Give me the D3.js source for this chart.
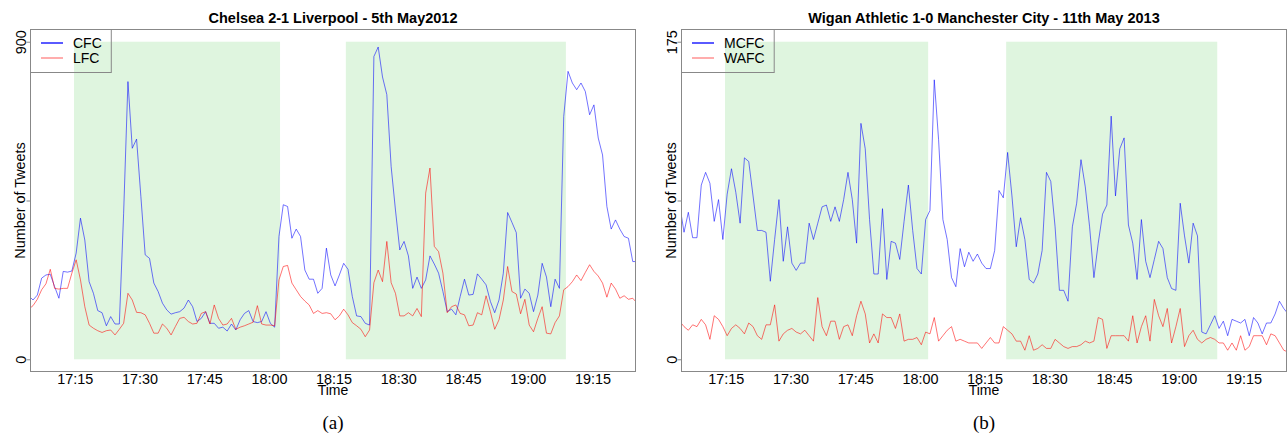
<!DOCTYPE html>
<html lang="en">
<head>
<meta charset="utf-8">
<script src="https://d3js.org/d3.v7.min.js"></script>
<style>
  body { margin: 0; background: #fff; }
  text { font-family: "Liberation Sans", Arial, sans-serif; fill: #000; }
</style>
</head>
<body>
<script>

// tweets per minute, first sample at startTime, one sample every minute
var startTime = "17:04:20";

var cfcTweets = [180,
  168,182,230,239,241,206,173,249,247,250, 301,400,338,220,187,138,132,95,121,100,
  100,414,787,598,624,461,296,286,216,192, 159,140,128,132,135,145,168,149,107,116,
  135,102,102,88,91,80,100,83,112,130, 138,107,104,107,135,102,91,348,438,433,
  343,369,348,253,227,227,187,201,315,239,
  208,239,272,255,178,123,121,102,97,858, 885,800,750,546,423,310,334,293,201,233,
  201,225,293,270,244,192,135,142,126,178, 227,182,184,242,227,211,164,132,168,244,
  416,388,359,173,199,187,135,182,272,233, 149,227,201,688,816,783,764,783,759,693,
  721,627,579,433,369,395,369,348,343,277, 277];

var lfcTweets = [142,
  152,170,197,214,255,201,199,201,201,244, 282,225,149,97,88,81,76,81,83,69,
  85,102,187,168,133,132,126,102,74,74, 100,88,69,93,116,119,107,100,102,130,
  135,100,154,116,97,100,116,85,91,95, 100,105,152,100,97,97,95,225,263,266,
  216,197,178,165,154,130,138,130,132,129,
  112,123,142,126,104,95,85,64,83,217, 253,220,334,217,187,123,123,132,123,144,
  121,471,542,320,305,244,132,149,154,130, 126,95,97,132,126,180,135,85,112,168,
  263,192,185,129,170,97,78,116,149,74, 72,104,123,197,206,220,239,223,246,268,
  249,236,216,176,216,199,173,180,170,173, 159];

var mcfcTweets = [85,
  70,81,67,67,96,103,97,76,88,66, 91,105,92,75,111,109,90,71,71,70,
  43,66,88,54,73,53,49,53,53,75, 66,75,84,85,76,84,76,88,103,88,
  64,130,116,77,47,47,83,44,65,64, 55,76,96,71,50,47,77,82,154,121,
  77,66,45,40,61,51,59,54,58,53,
  50,50,60,93,89,114,90,62,78,66, 44,42,47,60,103,98,73,38,38,32,
  73,86,110,95,73,45,64,80,85,134, 90,116,122,74,64,44,77,54,45,55,
  65,61,45,39,38,86,68,53,75,68, 15,14,19,24,17,21,13,22,21,20,
  22,13,23,20,14,20,20,25,32,28, 25];

var wafcTweets = [21,
  18,16,19,18,22,19,11,24,22,18, 13,17,19,17,14,20,18,13,11,19,
  19,30,10,14,16,17,15,14,16,13, 10,34,18,13,21,21,11,18,19,13,
  24,32,25,9,14,9,25,23,23,17, 25,10,11,11,12,8,15,14,23,10,
  13,16,18,10,11,10,9,9,9,6,
  9,12,9,9,18,16,14,10,10,5, 13,5,6,8,6,6,11,9,7,6,
  7,7,8,10,9,10,23,22,6,13, 13,13,13,10,24,9,18,24,10,33,
  24,18,28,9,18,28,7,13,16,11, 9,11,12,11,9,9,5,9,5,13,
  5,7,13,13,13,8,14,13,9,5, 4];

// x axis limits and tick labels
var xStart = "17:04:38", xEnd = "19:25:05";
var timeTicks = ["17:15","17:30","17:45","18:00","18:15","18:30","18:45","19:00","19:15"];

// match halves (shaded)
var chelseaHalves = [["17:14:50","18:02:35"],["18:17:50","19:08:50"]];
var wiganHalves   = [["17:14:50","18:01:55"],["18:20:00","19:08:55"]];

function toMin(s) {
  var p = s.split(":").map(Number);
  return p[0]*60 + p[1] + (p[2] || 0)/60;
}
function fmtMin(m) {
  var hh = Math.floor(m/60), mm = Math.round(m - hh*60);
  return hh + ":" + (mm < 10 ? "0" : "") + mm;
}

var width = 1287, height = 436;
var svg = d3.select("body").append("svg").attr("width", width).attr("height", height);

var plotW = 606, plotH = 343, plotTop = 29;

function drawPanel(cfg) {
  var g = svg.append("g").attr("transform", "translate(" + cfg.left + "," + plotTop + ")");

  var x = d3.scaleLinear().domain([toMin(xStart), toMin(xEnd)]).range([0, plotW]);
  var pad = cfg.yMax * 0.04;
  var y = d3.scaleLinear().domain([-pad, cfg.yMax + pad]).range([plotH, 0]);

  g.append("clipPath").attr("id", "clip-" + cfg.id)
    .append("rect").attr("width", plotW).attr("height", plotH);

  // halves
  g.selectAll(".half").data(cfg.halves).enter().append("rect")
    .attr("class", "half")
    .attr("x", function(d) { return x(toMin(d[0])); })
    .attr("width", function(d) { return x(toMin(d[1])) - x(toMin(d[0])); })
    .attr("y", y(cfg.yMax))
    .attr("height", y(0) - y(cfg.yMax))
    .style("fill", "#dff5df");

  var t0 = toMin(startTime);
  var line = d3.line()
    .x(function(d, i) { return x(t0 + i); })
    .y(function(d) { return y(d); });

  var lines = g.append("g").attr("clip-path", "url(#clip-" + cfg.id + ")");
  cfg.series.forEach(function(s) {
    lines.append("path")
      .datum(s.values)
      .attr("d", line)
      .style("fill", "none")
      .style("stroke", s.color)
      .style("stroke-opacity", 0.55)
      .style("stroke-width", 1);
  });

  // frame
  g.append("rect")
    .attr("x", 0.5).attr("y", 0.5)
    .attr("width", plotW - 1).attr("height", plotH - 1)
    .style("fill", "none").style("stroke", "#888");

  // y axis
  var yAxis = d3.axisLeft(y)
    .tickValues([0, cfg.yMax/2, cfg.yMax])
    .tickSize(4)
    .tickFormat(function(d) { return d === cfg.yMax/2 ? "" : d; });
  var ya = g.append("g").attr("transform", "translate(0.5,0)").call(yAxis);
  ya.select(".domain").remove();
  ya.selectAll("line").style("stroke", "#888");
  ya.selectAll("text")
    .attr("x", null).attr("dy", null)
    .attr("transform", "translate(-5,0) rotate(-90)")
    .attr("text-anchor", "middle")
    .style("font-size", "14.4px")
    .style("font-family", "Liberation Sans, Arial, sans-serif");

  // x axis
  var xAxis = d3.axisBottom(x)
    .tickValues(timeTicks.map(toMin))
    .tickSize(0)
    .tickPadding(1.3)
    .tickFormat(fmtMin);
  var xa = g.append("g").attr("transform", "translate(0," + plotH + ")").call(xAxis);
  xa.select(".domain").remove();
  xa.selectAll("text")
    .style("font-size", "14.4px")
    .style("font-family", "Liberation Sans, Arial, sans-serif");

  // labels
  g.append("text")
    .attr("x", plotW/2).attr("y", 366)
    .attr("text-anchor", "middle")
    .style("font-size", "14px")
    .text("Time");

  g.append("text")
    .attr("transform", "translate(-5," + plotH/2 + ") rotate(-90)")
    .attr("text-anchor", "middle")
    .style("font-size", "14.4px")
    .text("Number of Tweets");

  g.append("text")
    .attr("x", plotW/2).attr("y", -6)
    .attr("text-anchor", "middle")
    .style("font-size", "14.5px")
    .style("font-weight", "bold")
    .text(cfg.title);

  g.append("text")
    .attr("x", plotW/2).attr("y", 400)
    .attr("text-anchor", "middle")
    .style("font-family", "Liberation Serif, serif")
    .style("font-size", "19px")
    .text(cfg.caption);

  // legend
  var leg = g.append("g");
  var maxW = 0;
  cfg.series.forEach(function(s, i) {
    var ly = 14 + i*15;
    leg.append("line")
      .attr("x1", 11).attr("x2", 33)
      .attr("y1", ly).attr("y2", ly)
      .style("stroke", s.legendColor)
      .style("stroke-width", 1.3);
    var t = leg.append("text")
      .attr("x", 43).attr("y", ly + 5)
      .style("font-size", "14px")
      .text(s.name);
    maxW = Math.max(maxW, t.node().getComputedTextLength());
  });
  leg.insert("rect", ":first-child")
    .attr("x", 0.5).attr("y", 0.5)
    .attr("width", 43 + maxW + 9).attr("height", 43)
    .style("fill", "none").style("stroke", "#888");
}

drawPanel({
  id: "a", left: 30, yMax: 900,
  title: "Chelsea 2-1 Liverpool - 5th May2012",
  caption: "(a)",
  halves: chelseaHalves,
  series: [
    { name: "CFC", values: cfcTweets, color: "#0000ff", legendColor: "#0000ff" },
    { name: "LFC", values: lfcTweets, color: "#ff0000", legendColor: "#ff8080" }
  ]
});

drawPanel({
  id: "b", left: 681, yMax: 175,
  title: "Wigan Athletic 1-0 Manchester City - 11th May 2013",
  caption: "(b)",
  halves: wiganHalves,
  series: [
    { name: "MCFC", values: mcfcTweets, color: "#0000ff", legendColor: "#0000ff" },
    { name: "WAFC", values: wafcTweets, color: "#ff0000", legendColor: "#ff8080" }
  ]
});

</script>
</body>
</html>
